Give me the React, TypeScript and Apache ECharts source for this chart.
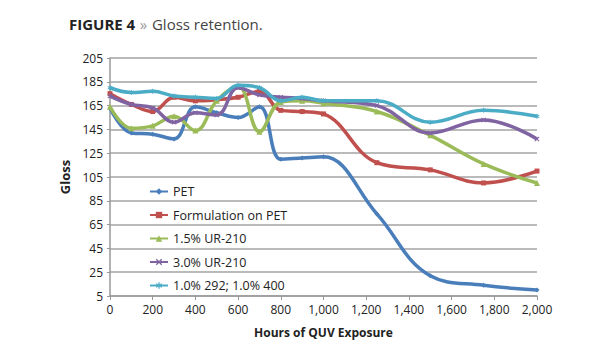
import React, { useEffect, useRef } from "react";
import * as echarts from "echarts";

const hours = [0, 100, 200, 300, 400, 500, 600, 700, 800, 900, 1000, 1250, 1500, 1750, 2000];
const pet = [163, 142, 141, 137, 164, 159, 155, 164, 120, 121, 122, 74, 22, 14, 10];
const formulation = [175, 166, 160, 172, 169, 170, 172, 177, 161, 160, 158, 117, 111, 100, 110];
const ur15 = [164, 146, 148, 156, 144, 169, 181, 143, 168, 169, 167, 160, 140, 116, 100];
const ur30 = [173, 166, 163, 151, 159, 157, 180, 174, 172, 171, 169, 165, 142, 153, 137];
const mix = [180, 176, 177, 173, 172, 171, 182, 180, 169, 172, 169, 169, 151, 161, 156];

const seriesNames = ["PET", "Formulation on PET", "1.5% UR-210", "3.0% UR-210", "1.0% 292; 1.0% 400"];
const seriesValues = [pet, formulation, ur15, ur30, mix];
const colors = ["#4A7EBB", "#C0504D", "#9BBB59", "#8064A2", "#4BACC6"];
const xPath = "path://M0,1.5L1.5,0L5,3.5L8.5,0L10,1.5L6.5,5L10,8.5L8.5,10L5,6.5L1.5,10L0,8.5L3.5,5Z";
const starPath = "path://M4,0L6,0L6,3.3L9,1.5L10,3.2L7,5L10,6.8L9,8.5L6,6.7L6,10L4,10L4,6.7L1,8.5L0,6.8L3,5L0,3.2L1,1.5L4,3.3Z";
const symbols = ["diamond", "rect", "triangle", xPath, starPath];

const FONT = "'Open Sans', 'Noto Sans', sans-serif";

export default function App() {
  const ref = useRef<HTMLDivElement>(null);
  useEffect(() => {
    if (!ref.current) return;
    const chart = echarts.init(ref.current, null, { renderer: "svg" });
    chart.setOption({
      animation: false,
      backgroundColor: "#ffffff",
      textStyle: { fontFamily: FONT },
      title: {
        text: "{a|FIGURE 4} {b|»} {c|Gloss retention.}",
        left: 64,
        top: 10,
        textStyle: {
          rich: {
            a: { fontFamily: FONT, fontSize: 15, fontWeight: "bold", color: "#222" },
            b: { fontFamily: FONT, fontSize: 15, fontWeight: "normal", color: "#999" },
            c: { fontFamily: FONT, fontSize: 15, fontWeight: "normal", color: "#444" },
          },
        },
      },
      grid: { left: 110, right: 78, top: 58, bottom: 54 },
      legend: {
        orient: "vertical",
        left: 144,
        top: 180,
        itemWidth: 18,
        itemHeight: 8,
        itemGap: 10.5,
        textStyle: { fontFamily: FONT, fontSize: 12.5, color: "#222" },
        data: seriesNames,
      },
      xAxis: {
        type: "value",
        min: 0,
        max: 2000,
        interval: 200,
        name: "Hours of QUV Exposure",
        nameLocation: "middle",
        nameGap: 30,
        nameTextStyle: { fontFamily: FONT, fontSize: 12, fontWeight: "bold", color: "#222" },
        axisLine: { lineStyle: { color: "#999", width: 1.5 } },
        axisTick: { show: true, length: 4, lineStyle: { color: "#999" } },
        splitLine: { show: false },
        axisLabel: {
          fontFamily: FONT,
          fontSize: 12,
          color: "#222",
          margin: 7,
          formatter: (v: number) => v.toLocaleString("en-US"),
        },
      },
      yAxis: {
        type: "value",
        min: 5,
        max: 205,
        interval: 20,
        name: "Gloss",
        nameLocation: "middle",
        nameGap: 26,
        nameTextStyle: { fontFamily: FONT, fontSize: 13, fontWeight: "bold", color: "#222" },
        axisLine: { show: true, lineStyle: { color: "#999", width: 1.5 } },
        axisTick: { show: true, length: 3, lineStyle: { color: "#999" } },
        splitLine: { lineStyle: { color: "#a3a3a3", width: 1.5 } },
        axisLabel: { fontFamily: FONT, fontSize: 12, color: "#222", margin: 7 },
      },
      series: seriesNames.map((name, i) => ({
        name,
        type: "line",
        smooth: 0.4,
        data: hours.map((h, j) => [h, seriesValues[i][j]]),
        symbol: symbols[i],
        symbolSize: i === 2 ? 6 : 5,
        showSymbol: true,
        lineStyle: { color: colors[i], width: 3.5 },
        itemStyle: { color: colors[i] },
        z: 2 + i,
      })),
    });
    return () => chart.dispose();
  }, []);
  return (
    <div
      ref={ref}
      style={{ position: "absolute", left: 0, top: 0, width: 615, height: 350 }}
    />
  );
}
